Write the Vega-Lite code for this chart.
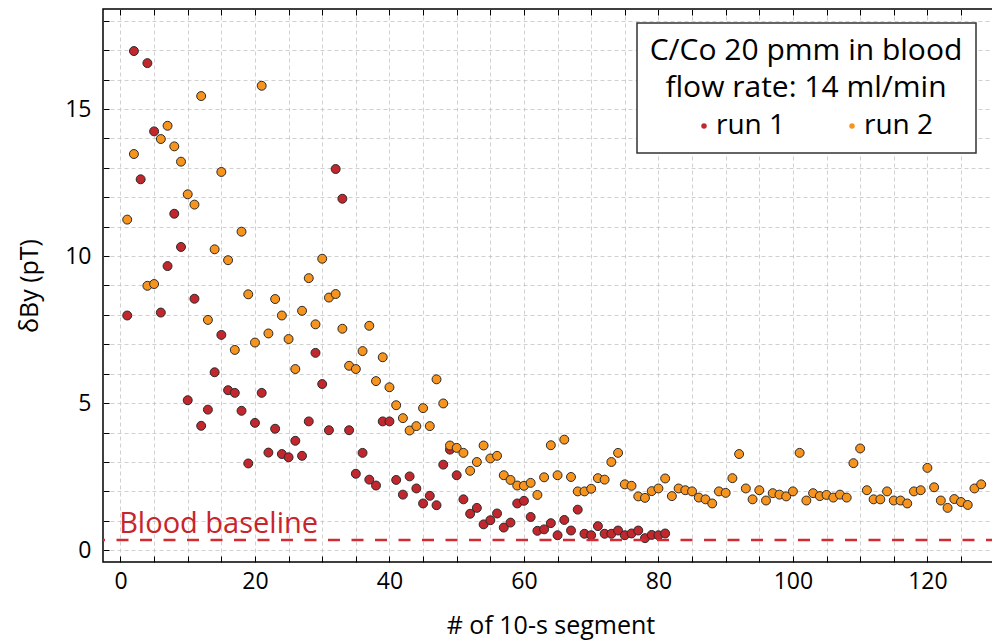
{
  "$schema": "https://vega.github.io/schema/vega-lite/v6.json",
  "width": 895,
  "height": 553,
  "autosize": {"type": "none"},
  "padding": {"left": 103, "top": 9, "right": 0, "bottom": 78},
  "background": "white",
  "config": {
    "font": "Open Sans",
    "view": {"stroke": "#000000", "strokeWidth": 1.5},
    "legend": {"strokeWidth": 1.5}
  },
  "datasets": {
    "pts": [
      {"s":1,"r":"run 1","v":7.98},{"s":2,"r":"run 1","v":16.97},{"s":3,"r":"run 1","v":12.61},{"s":4,"r":"run 1","v":16.56},{"s":5,"r":"run 1","v":14.24},
      {"s":6,"r":"run 1","v":8.08},{"s":7,"r":"run 1","v":9.66},{"s":8,"r":"run 1","v":11.44},{"s":9,"r":"run 1","v":10.31},{"s":10,"r":"run 1","v":5.10},
      {"s":11,"r":"run 1","v":8.55},{"s":12,"r":"run 1","v":4.23},{"s":13,"r":"run 1","v":4.78},{"s":14,"r":"run 1","v":6.05},{"s":15,"r":"run 1","v":7.32},
      {"s":16,"r":"run 1","v":5.44},{"s":17,"r":"run 1","v":5.35},{"s":18,"r":"run 1","v":4.74},{"s":19,"r":"run 1","v":2.95},{"s":20,"r":"run 1","v":4.33},
      {"s":21,"r":"run 1","v":5.35},{"s":22,"r":"run 1","v":3.32},{"s":23,"r":"run 1","v":4.13},{"s":24,"r":"run 1","v":3.27},{"s":25,"r":"run 1","v":3.16},
      {"s":26,"r":"run 1","v":3.72},{"s":27,"r":"run 1","v":3.21},{"s":28,"r":"run 1","v":4.38},{"s":29,"r":"run 1","v":6.71},{"s":30,"r":"run 1","v":5.65},
      {"s":31,"r":"run 1","v":4.08},{"s":32,"r":"run 1","v":12.96},{"s":33,"r":"run 1","v":11.95},{"s":34,"r":"run 1","v":4.08},{"s":35,"r":"run 1","v":2.60},
      {"s":36,"r":"run 1","v":3.31},{"s":37,"r":"run 1","v":2.40},{"s":38,"r":"run 1","v":2.20},{"s":39,"r":"run 1","v":4.38},{"s":40,"r":"run 1","v":4.38},
      {"s":41,"r":"run 1","v":2.39},{"s":42,"r":"run 1","v":1.89},{"s":43,"r":"run 1","v":2.51},{"s":44,"r":"run 1","v":2.10},{"s":45,"r":"run 1","v":1.59},
      {"s":46,"r":"run 1","v":1.85},{"s":47,"r":"run 1","v":1.53},{"s":48,"r":"run 1","v":2.91},{"s":49,"r":"run 1","v":3.42},{"s":50,"r":"run 1","v":2.55},
      {"s":51,"r":"run 1","v":1.73},{"s":52,"r":"run 1","v":1.24},{"s":53,"r":"run 1","v":1.44},{"s":54,"r":"run 1","v":0.88},{"s":55,"r":"run 1","v":1.02},
      {"s":56,"r":"run 1","v":1.25},{"s":57,"r":"run 1","v":0.77},{"s":58,"r":"run 1","v":0.94},{"s":59,"r":"run 1","v":1.59},{"s":60,"r":"run 1","v":1.68},
      {"s":61,"r":"run 1","v":1.13},{"s":62,"r":"run 1","v":0.66},{"s":63,"r":"run 1","v":0.71},{"s":64,"r":"run 1","v":0.92},{"s":65,"r":"run 1","v":0.51},
      {"s":66,"r":"run 1","v":1.03},{"s":67,"r":"run 1","v":0.67},{"s":68,"r":"run 1","v":1.38},{"s":69,"r":"run 1","v":0.56},{"s":70,"r":"run 1","v":0.51},
      {"s":71,"r":"run 1","v":0.82},{"s":72,"r":"run 1","v":0.56},{"s":73,"r":"run 1","v":0.56},{"s":74,"r":"run 1","v":0.67},{"s":75,"r":"run 1","v":0.51},
      {"s":76,"r":"run 1","v":0.57},{"s":77,"r":"run 1","v":0.67},{"s":78,"r":"run 1","v":0.41},{"s":79,"r":"run 1","v":0.52},{"s":80,"r":"run 1","v":0.51},
      {"s":81,"r":"run 1","v":0.57},
      {"s":1,"r":"run 2","v":11.24},{"s":2,"r":"run 2","v":13.47},{"s":4,"r":"run 2","v":8.99},{"s":5,"r":"run 2","v":9.05},
      {"s":6,"r":"run 2","v":13.98},{"s":7,"r":"run 2","v":14.43},{"s":8,"r":"run 2","v":13.73},{"s":9,"r":"run 2","v":13.21},{"s":10,"r":"run 2","v":12.10},
      {"s":11,"r":"run 2","v":11.75},{"s":12,"r":"run 2","v":15.44},{"s":13,"r":"run 2","v":7.83},{"s":14,"r":"run 2","v":10.23},{"s":15,"r":"run 2","v":12.86},
      {"s":16,"r":"run 2","v":9.86},{"s":17,"r":"run 2","v":6.81},{"s":18,"r":"run 2","v":10.83},{"s":19,"r":"run 2","v":8.70},{"s":20,"r":"run 2","v":7.06},
      {"s":21,"r":"run 2","v":15.79},{"s":22,"r":"run 2","v":7.37},{"s":23,"r":"run 2","v":8.54},{"s":24,"r":"run 2","v":7.98},{"s":25,"r":"run 2","v":7.18},
      {"s":26,"r":"run 2","v":6.16},{"s":27,"r":"run 2","v":8.14},{"s":28,"r":"run 2","v":9.25},{"s":29,"r":"run 2","v":7.68},{"s":30,"r":"run 2","v":9.91},
      {"s":31,"r":"run 2","v":8.59},{"s":32,"r":"run 2","v":8.71},{"s":33,"r":"run 2","v":7.53},{"s":34,"r":"run 2","v":6.27},{"s":35,"r":"run 2","v":6.16},
      {"s":36,"r":"run 2","v":6.77},{"s":37,"r":"run 2","v":7.63},{"s":38,"r":"run 2","v":5.75},{"s":39,"r":"run 2","v":6.56},{"s":40,"r":"run 2","v":5.54},
      {"s":41,"r":"run 2","v":4.93},{"s":42,"r":"run 2","v":4.49},{"s":43,"r":"run 2","v":4.07},{"s":44,"r":"run 2","v":4.22},{"s":45,"r":"run 2","v":4.83},
      {"s":46,"r":"run 2","v":4.22},{"s":47,"r":"run 2","v":5.81},{"s":48,"r":"run 2","v":4.99},{"s":49,"r":"run 2","v":3.56},{"s":50,"r":"run 2","v":3.48},
      {"s":51,"r":"run 2","v":3.31},{"s":52,"r":"run 2","v":2.70},{"s":53,"r":"run 2","v":3.00},{"s":54,"r":"run 2","v":3.56},{"s":55,"r":"run 2","v":3.12},
      {"s":56,"r":"run 2","v":3.21},{"s":57,"r":"run 2","v":2.55},{"s":58,"r":"run 2","v":2.39},{"s":59,"r":"run 2","v":2.20},{"s":60,"r":"run 2","v":2.19},
      {"s":61,"r":"run 2","v":2.29},{"s":62,"r":"run 2","v":1.88},{"s":63,"r":"run 2","v":2.48},{"s":64,"r":"run 2","v":3.57},{"s":65,"r":"run 2","v":2.55},
      {"s":66,"r":"run 2","v":3.76},{"s":67,"r":"run 2","v":2.49},{"s":68,"r":"run 2","v":2.00},{"s":69,"r":"run 2","v":2.00},{"s":70,"r":"run 2","v":2.09},
      {"s":71,"r":"run 2","v":2.45},{"s":72,"r":"run 2","v":2.40},{"s":73,"r":"run 2","v":3.00},{"s":74,"r":"run 2","v":3.31},{"s":75,"r":"run 2","v":2.24},
      {"s":76,"r":"run 2","v":2.19},{"s":77,"r":"run 2","v":1.83},{"s":78,"r":"run 2","v":1.78},{"s":79,"r":"run 2","v":2.01},{"s":80,"r":"run 2","v":2.10},
      {"s":81,"r":"run 2","v":2.44},{"s":82,"r":"run 2","v":1.84},{"s":83,"r":"run 2","v":2.10},{"s":84,"r":"run 2","v":2.04},{"s":85,"r":"run 2","v":2.00},
      {"s":86,"r":"run 2","v":1.79},{"s":87,"r":"run 2","v":1.73},{"s":88,"r":"run 2","v":1.59},{"s":89,"r":"run 2","v":2.00},{"s":90,"r":"run 2","v":1.95},
      {"s":91,"r":"run 2","v":2.45},{"s":92,"r":"run 2","v":3.27},{"s":93,"r":"run 2","v":2.10},{"s":94,"r":"run 2","v":1.73},{"s":95,"r":"run 2","v":2.04},
      {"s":96,"r":"run 2","v":1.69},{"s":97,"r":"run 2","v":1.94},{"s":98,"r":"run 2","v":1.89},{"s":99,"r":"run 2","v":1.83},{"s":100,"r":"run 2","v":2.00},
      {"s":101,"r":"run 2","v":3.31},{"s":102,"r":"run 2","v":1.69},{"s":103,"r":"run 2","v":1.94},{"s":104,"r":"run 2","v":1.84},{"s":105,"r":"run 2","v":1.88},
      {"s":106,"r":"run 2","v":1.79},{"s":107,"r":"run 2","v":1.89},{"s":108,"r":"run 2","v":1.79},{"s":109,"r":"run 2","v":2.96},{"s":110,"r":"run 2","v":3.46},
      {"s":111,"r":"run 2","v":2.04},{"s":112,"r":"run 2","v":1.73},{"s":113,"r":"run 2","v":1.73},{"s":114,"r":"run 2","v":2.00},{"s":115,"r":"run 2","v":1.69},
      {"s":116,"r":"run 2","v":1.69},{"s":117,"r":"run 2","v":1.59},{"s":118,"r":"run 2","v":2.00},{"s":119,"r":"run 2","v":2.04},{"s":120,"r":"run 2","v":2.80},
      {"s":121,"r":"run 2","v":2.14},{"s":122,"r":"run 2","v":1.69},{"s":123,"r":"run 2","v":1.44},{"s":124,"r":"run 2","v":1.74},{"s":125,"r":"run 2","v":1.64},
      {"s":126,"r":"run 2","v":1.54},{"s":127,"r":"run 2","v":2.10},{"s":128,"r":"run 2","v":2.24}
    ],
    "base": [{"b": 0.35, "label": "Blood baseline"}]
  },
  "resolve": {"axis": {"x": "independent"}},
  "layer": [
    {
      "data": {"name": "pts"},
      "mark": {"type": "point", "filled": true, "size": 80, "stroke": "#2a2a2a", "strokeWidth": 1, "opacity": 1},
      "encoding": {
        "x": {
          "field": "s", "type": "quantitative",
          "scale": {"domain": [-2.6, 130.5], "nice": false, "zero": false},
          "axis": {
            "orient": "bottom",
            "values": [0,5,10,15,20,25,30,35,40,45,50,55,60,65,70,75,80,85,90,95,100,105,110,115,120,125,130],
            "labelExpr": "datum.value % 20 === 0 ? datum.label : ''",
            "labelOverlap": false, "labelFlush": false,
            "title": "# of 10-s segment", "titleFontSize": 25, "titleFontWeight": "normal", "titleColor": "#000", "titlePadding": 20,
            "labelFontSize": 23, "labelColor": "#000", "labelPadding": 14,
            "tickSize": -6, "tickColor": "#000", "tickWidth": 1,
            "domain": false,
            "grid": true, "gridColor": "#c4c4c4", "gridDash": [4, 3], "gridWidth": 0.8
          }
        },
        "y": {
          "field": "v", "type": "quantitative",
          "scale": {"domain": [-0.4, 18.4], "nice": false, "zero": false},
          "axis": {
            "values": [0,1,2,3,4,5,6,7,8,9,10,11,12,13,14,15,16,17,18],
            "labelExpr": "datum.value % 5 === 0 ? datum.label : ''",
            "labelOverlap": false, "labelFlush": false,
            "title": "δBy (pT)", "titleFontSize": 25, "titleFontWeight": "normal", "titleColor": "#000", "titlePadding": 22,
            "labelFontSize": 23, "labelColor": "#000", "labelPadding": 18,
            "tickSize": -6, "tickColor": "#000", "tickWidth": 1,
            "domain": false,
            "grid": true, "gridColor": "#c4c4c4", "gridDash": [4, 3], "gridWidth": 0.8
          }
        },
        "color": {
          "field": "r", "type": "nominal",
          "scale": {"domain": ["run 1", "run 2"], "range": ["#c1272d", "#f7941d"]},
          "legend": {
            "title": ["C/Co 20 pmm in blood", "flow rate: 14 ml/min"],
            "orient": "none", "legendX": 534, "legendY": 14,
            "direction": "horizontal", "columns": 2,
            "fillColor": "white", "strokeColor": "#333333",
            "padding": 13,
            "titleFontSize": 30, "titleFontWeight": "normal", "titleColor": "#000",
            "titleAlign": "center", "titleAnchor": "middle", "titleLineHeight": 37, "titlePadding": 9, "titleLimit": 500,
            "labelFontSize": 28, "labelColor": "#000", "labelOffset": -2, "labelLimit": 400,
            "labelExpr": "datum.label === 'run 2' ? 'run 2\u00a0\u00a0' : datum.label",
            "symbolType": "circle", "symbolSize": 30, "symbolStrokeWidth": 0, "symbolOpacity": 1, "symbolOffset": 12,
            "columnPadding": 40
          }
        }
      }
    },
    {
      "data": {"name": "base"},
      "mark": {"type": "rule", "color": "#d42a33", "strokeWidth": 2.5, "strokeDash": [12, 11.5]},
      "encoding": {
        "y": {
          "field": "b", "type": "quantitative",
          "scale": {"domain": [-0.4, 18.4], "nice": false, "zero": false},
          "axis": {
            "values": [0,1,2,3,4,5,6,7,8,9,10,11,12,13,14,15,16,17,18],
            "labelExpr": "datum.value % 5 === 0 ? datum.label : ''",
            "labelOverlap": false, "labelFlush": false,
            "title": "δBy (pT)", "titleFontSize": 25, "titleFontWeight": "normal", "titleColor": "#000", "titlePadding": 22,
            "labelFontSize": 23, "labelColor": "#000", "labelPadding": 18,
            "tickSize": -6, "tickColor": "#000", "tickWidth": 1,
            "domain": false,
            "grid": true, "gridColor": "#c4c4c4", "gridDash": [4, 3], "gridWidth": 0.8
          }
        }
      }
    },
    {
      "data": {"name": "base"},
      "mark": {"type": "text", "color": "#c8242c", "fontSize": 29, "align": "left", "baseline": "alphabetic", "dy": -7},
      "encoding": {
        "x": {
          "datum": -0.2, "type": "quantitative",
          "scale": {"domain": [-2.6, 130.5], "nice": false, "zero": false},
          "axis": {
            "orient": "top",
            "values": [0,5,10,15,20,25,30,35,40,45,50,55,60,65,70,75,80,85,90,95,100,105,110,115,120,125,130],
            "labels": false, "title": null, "domain": false, "grid": false,
            "tickSize": -6, "tickColor": "#000", "tickWidth": 1
          }
        },
        "y": {
          "field": "b", "type": "quantitative",
          "scale": {"domain": [-0.4, 18.4], "nice": false, "zero": false},
          "axis": {
            "values": [0,1,2,3,4,5,6,7,8,9,10,11,12,13,14,15,16,17,18],
            "labelExpr": "datum.value % 5 === 0 ? datum.label : ''",
            "labelOverlap": false, "labelFlush": false,
            "title": "δBy (pT)", "titleFontSize": 25, "titleFontWeight": "normal", "titleColor": "#000", "titlePadding": 22,
            "labelFontSize": 23, "labelColor": "#000", "labelPadding": 18,
            "tickSize": -6, "tickColor": "#000", "tickWidth": 1,
            "domain": false,
            "grid": true, "gridColor": "#c4c4c4", "gridDash": [4, 3], "gridWidth": 0.8
          }
        },
        "text": {"field": "label"}
      }
    }
  ]
}
